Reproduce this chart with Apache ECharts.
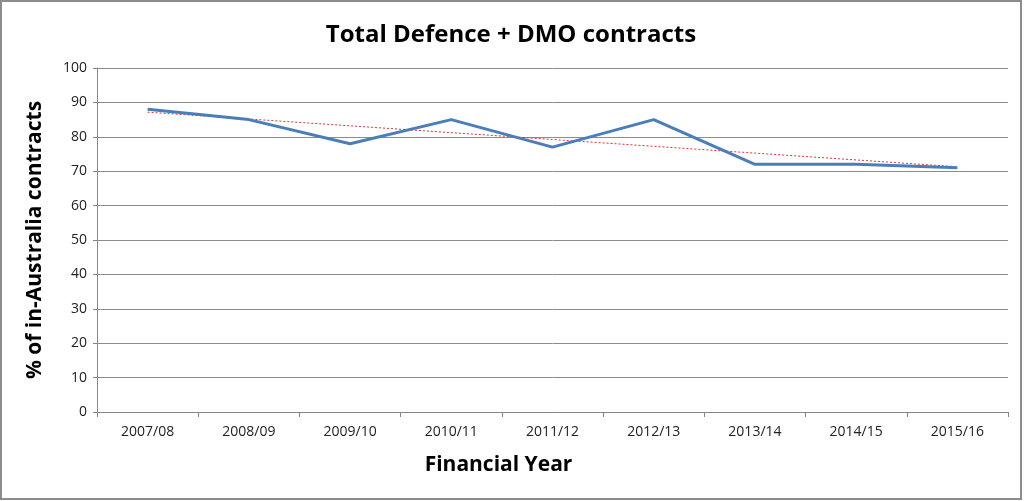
<!DOCTYPE html>
<html>
<head>
<meta charset="utf-8">
<script src="https://cdn.jsdelivr.net/npm/echarts@6/dist/echarts.min.js"></script>
<style>
html,body{margin:0;padding:0;background:#fff;}
#wrap{position:absolute;left:0;top:0;width:1018px;height:496px;border:2px solid #8c8c8c;box-sizing:content-box;}
#chart{width:1018px;height:496px;}
</style>
</head>
<body>
<div id="wrap"><div id="chart"></div></div>
<script>
const categories = ['2007/08','2008/09','2009/10','2010/11','2011/12','2012/13','2013/14','2014/15','2015/16'];
const contractShare = [88, 85, 78, 85, 77, 85, 72, 72, 71];
const yTicks = [0, 10, 20, 30, 40, 50, 60, 70, 80, 90, 100];

// Linear trendline (least squares), as in the original spreadsheet chart
const n = contractShare.length;
const mx = (n - 1) / 2;
const my = contractShare.reduce((a, b) => a + b, 0) / n;
let num = 0, den = 0;
contractShare.forEach((v, i) => { num += (i - mx) * (v - my); den += (i - mx) * (i - mx); });
const slope = num / den;
const trend = contractShare.map((v, i) => +(my + slope * (i - mx)).toFixed(3));

const font = '"Open Sans", "Noto Sans", sans-serif';
const chart = echarts.init(document.getElementById('chart'), null, {renderer: 'canvas'});
chart.setOption({
  animation: false,
  backgroundColor: '#fff',
  title: {
    text: 'Total Defence + DMO contracts',
    left: 'center', top: 16,
    textStyle: {fontFamily: font, fontSize: 24, fontWeight: 'bold', color: '#000'}
  },
  grid: {left: 95, right: 12, top: 66, bottom: 86},
  xAxis: {
    type: 'category',
    data: categories,
    boundaryGap: true,
    name: 'Financial Year',
    nameLocation: 'middle',
    nameGap: 43,
    nameTextStyle: {fontFamily: font, fontSize: 21, fontWeight: 'bold', color: '#000', padding: [0, 108, 0, 0]},
    axisLine: {lineStyle: {color: '#868686', width: 1}},
    axisTick: {show: true, length: 5, alignWithLabel: false, lineStyle: {color: '#868686'}},
    axisLabel: {fontFamily: font, fontSize: 14, color: '#222', margin: 13}
  },
  yAxis: {
    type: 'value',
    min: 0, max: 100, interval: 10,
    name: '% of in-Australia contracts',
    nameLocation: 'middle',
    nameGap: 51,
    nameTextStyle: {fontFamily: font, fontSize: 21, fontWeight: 'bold', color: '#000'},
    axisLine: {show: true, lineStyle: {color: '#868686'}},
    axisTick: {show: true, length: 4, lineStyle: {color: '#868686'}},
    axisLabel: {fontFamily: font, fontSize: 14, color: '#222', margin: 10,
      formatter: v => yTicks.includes(v) ? String(v) : ''},
    splitLine: {lineStyle: {color: '#8c8c8c', width: 1}}
  },
  series: [
    {
      type: 'line',
      data: trend,
      symbol: 'none',
      lineStyle: {color: '#e0342f', width: 1, type: [2, 2]},
      z: 3
    },
    {
      type: 'line',
      data: contractShare,
      symbol: 'none',
      lineStyle: {color: '#4a7ebb', width: 3},
      z: 4
    }
  ]
});
</script>
</body>
</html>
